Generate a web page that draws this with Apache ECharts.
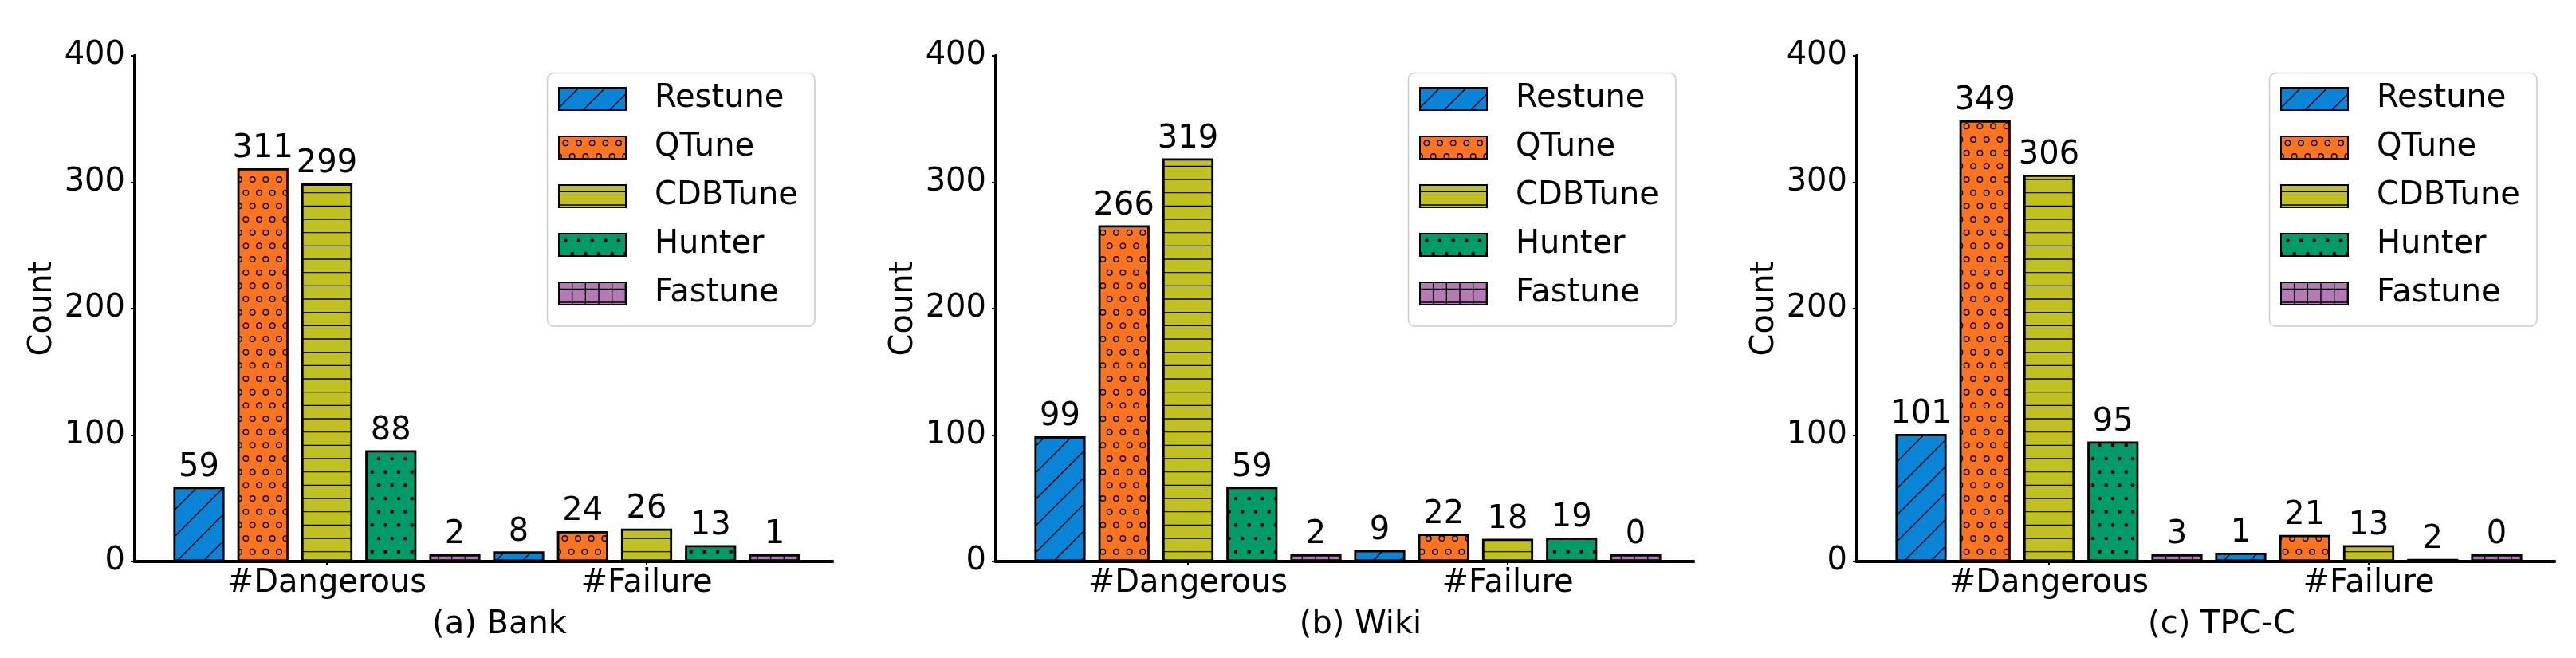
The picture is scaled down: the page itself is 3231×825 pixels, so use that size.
<!DOCTYPE html>
<html>
<head>
<meta charset="utf-8">
<title>Dangerous and failure counts</title>
<script src="https://cdn.jsdelivr.net/npm/echarts@6/dist/echarts.min.js"></script>
<style>
  html, body { margin: 0; padding: 0; background: #fff; }
  #chart { width: 3231px; height: 825px; }
</style>
</head>
<body>
<div id="chart"></div>
<script>
  // data
  const categories = ['#Dangerous', '#Failure'];
  const methods = ['Restune', 'QTune', 'CDBTune', 'Hunter', 'Fastune'];
  const panelNames = ['(a) Bank', '(b) Wiki', '(c) TPC-C'];
  const bankDangerous = [59, 311, 299, 88, 2];
  const bankFailure = [8, 24, 26, 13, 1];
  const wikiDangerous = [99, 266, 319, 59, 2];
  const wikiFailure = [9, 22, 18, 19, 0];
  const tpccDangerous = [101, 349, 306, 95, 3];
  const tpccFailure = [1, 21, 13, 2, 0];
  const yMin = 0, yMax = 400, yStep = 100;

  const panelData = [
    [bankDangerous, bankFailure],
    [wikiDangerous, wikiFailure],
    [tpccDangerous, tpccFailure]
  ];

  const colors = ['#0a84d6', '#fc7420', '#c1c021', '#009b68', '#b47ab4'];
  const hatches = ['/', 'o', '-', '.', '+'];
  const minHeights = [11, 0, 0, 0, 9]; // tiny bars are drawn a bit taller in the original
  const font = 'DejaVu Sans';

  // hatch tile, 100px like matplotlib at dpi 100
  function hatchTile(kind, color) {
    const c = document.createElement('canvas');
    c.width = 100; c.height = 100;
    const g = c.getContext('2d');
    g.fillStyle = color;
    g.fillRect(0, 0, 100, 100);
    g.strokeStyle = '#000';
    g.fillStyle = '#000';
    g.lineWidth = 1.4;
    const s = 100 / 6;
    if (kind === '/') {
      for (let k = -3; k <= 7; k++) {
        const c0 = 25 + k * 2 * s;
        g.beginPath();
        g.moveTo(c0 + 10, -10);
        g.lineTo(c0 - 110, 110);
        g.stroke();
      }
    }
    if (kind === '-' || kind === '+') {
      for (let k = 0; k < 6; k++) {
        const y = ((25 - k * s) % 100 + 100) % 100;
        g.beginPath(); g.moveTo(0, y); g.lineTo(100, y); g.stroke();
      }
    }
    if (kind === '+') {
      for (let k = 0; k <= 6; k++) {
        const x = k * s;
        g.beginPath(); g.moveTo(x, 0); g.lineTo(x, 100); g.stroke();
      }
    }
    if (kind === 'o' || kind === '.') {
      for (let row = 0; row < 6; row++) {
        const y = ((25 - row * s) % 100 + 100) % 100;
        const off = row % 2 ? s / 2 : 0;
        for (let col = 0; col < 6; col++) {
          const x = off + col * s;
          for (const dx of [-100, 0, 100]) {
            for (const dy of [-100, 0, 100]) {
              g.beginPath();
              if (kind === 'o') {
                g.arc(x + dx, y + dy, 3.3, 0, Math.PI * 2);
                g.stroke();
              } else {
                g.arc(x + dx, y + dy, 2.3, 0, Math.PI * 2);
                g.fill();
              }
            }
          }
        }
      }
    }
    return { image: c, repeat: 'repeat' };
  }

  const patterns = methods.map((m, i) => hatchTile(hatches[i], colors[i]));

  const panelLeft = [169, 1249, 2329];
  const panelWidth = 875;
  const plotTop = 70, plotHeight = 634;

  const grids = [], xAxes = [], yAxes = [], legends = [], series = [], boxes = [];
  const frameLine = { show: true, lineStyle: { color: '#000', width: 4 } };
  const txt = { fontSize: 40, color: '#000', fontFamily: font };

  panelLeft.forEach((left, p) => {
    grids.push({ left: left, top: plotTop, width: panelWidth, height: plotHeight, outerBoundsMode: 'none', containLabel: false });
    grids.push({ left: left + 40.5, top: plotTop, width: 802, height: plotHeight, outerBoundsMode: 'none', containLabel: false });

    // frame + subplot caption
    xAxes.push({
      gridIndex: 2 * p, type: 'value', min: 0, max: 1, position: 'bottom', z: 10,
      axisLine: frameLine, axisTick: { show: false }, axisLabel: { show: false }, splitLine: { show: false },
      name: panelNames[p], nameLocation: 'middle', nameGap: 60,
      nameTextStyle: Object.assign({ padding: [0, 0, 0, 40] }, txt)
    });
    xAxes.push({
      gridIndex: 2 * p, type: 'value', min: 0, max: 1, position: 'top', z: 10,
      axisLine: frameLine, axisTick: { show: false }, axisLabel: { show: false }, splitLine: { show: false }
    });
    xAxes.push({
      gridIndex: 2 * p + 1, type: 'category', data: categories, z: 10,
      axisLine: { show: false },
      axisTick: { show: true, alignWithLabel: true, length: 5, lineStyle: { color: '#000', width: 2 } },
      axisLabel: Object.assign({ margin: 8 }, txt),
      splitLine: { show: false }
    });

    yAxes.push({
      gridIndex: 2 * p, type: 'value', min: yMin, max: yMax, interval: yStep, position: 'left', z: 10,
      axisLine: frameLine,
      axisTick: { show: true, length: 5, lineStyle: { color: '#000', width: 2 } },
      axisLabel: Object.assign({ margin: 12 }, txt),
      splitLine: { show: false },
      name: 'Count', nameLocation: 'middle', nameGap: 95, nameTextStyle: txt
    });
    yAxes.push({
      gridIndex: 2 * p, type: 'value', min: yMin, max: yMax, position: 'right', z: 10,
      axisLine: frameLine, axisTick: { show: false }, axisLabel: { show: false }, splitLine: { show: false }
    });
    yAxes.push({
      gridIndex: 2 * p + 1, type: 'value', min: yMin, max: yMax, show: false, splitLine: { show: false }
    });

    // legend frame drawn by hand, the legend itself has no box
    boxes.push({
      type: 'rect', z: 3, silent: true,
      shape: { x: left + 517.5, y: 91.5, width: 335.5, height: 317.5, r: 8 },
      style: { fill: 'rgba(255,255,255,0.8)', stroke: '#cccccc', lineWidth: 1.5 }
    });
    legends.push({
      data: methods, orient: 'vertical', left: left + 531, top: 104,
      icon: 'rect', itemWidth: 84, itemHeight: 28, itemGap: 21,
      padding: 0, selectedMode: false,
      textStyle: Object.assign({ padding: [0, 0, 0, 31] }, txt)
    });

    methods.forEach((m, i) => {
      series.push({
        type: 'bar', name: m,
        xAxisIndex: 3 * p + 2, yAxisIndex: 3 * p + 2,
        data: [panelData[p][0][i], panelData[p][1][i]],
        barWidth: 64.2, barGap: '25%', barMinHeight: minHeights[i],
        itemStyle: { color: patterns[i], borderColor: '#000', borderWidth: 2.8 },
        label: Object.assign({ show: true, position: 'top', distance: 4 }, txt),
        emphasis: { disabled: true }
      });
    });
  });

  const chart = echarts.init(document.getElementById('chart'), null, { renderer: 'canvas' });
  chart.setOption({
    animation: false,
    backgroundColor: '#fff',
    grid: grids,
    xAxis: xAxes,
    yAxis: yAxes,
    legend: legends,
    graphic: boxes,
    series: series
  });
</script>
</body>
</html>
